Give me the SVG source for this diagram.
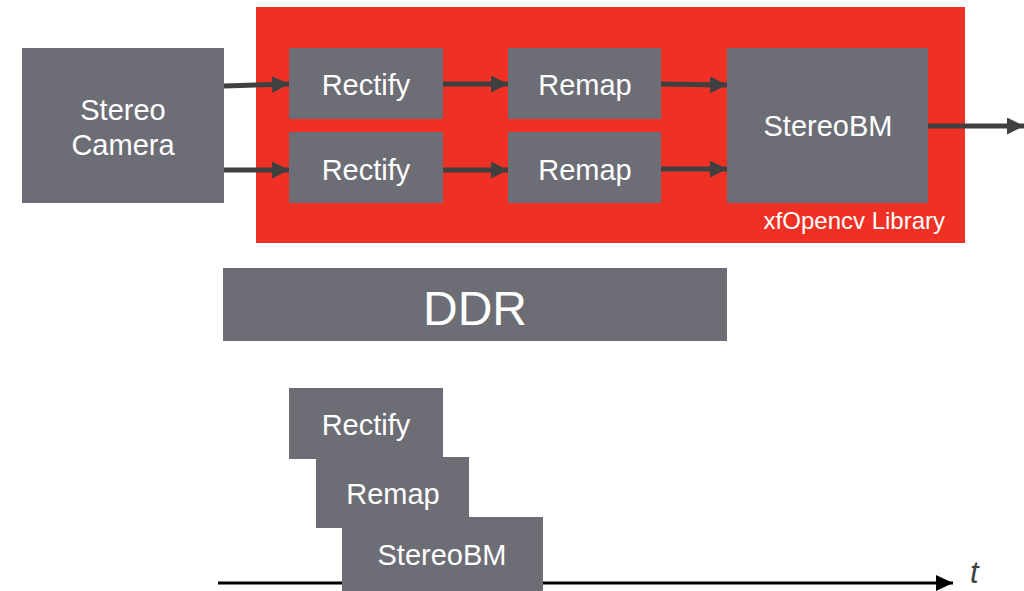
<svg xmlns="http://www.w3.org/2000/svg" width="1024" height="591" viewBox="0 0 1024 591">
  <style>
    .box { fill: #6d6e75; }
    .lbl { fill: #ffffff; font-family: "Liberation Sans", Arial, sans-serif; font-size: 29px; text-anchor: middle; }
    .conn { stroke: #404040; stroke-width: 5; fill: none; }
  </style>
  <defs>
    <marker id="ah" markerWidth="17" markerHeight="17" viewBox="0 0 17 17" refX="17" refY="8.5" markerUnits="userSpaceOnUse" orient="auto">
      <path d="M0,0 L17,8.5 L0,17 Z" fill="#404040"/>
    </marker>
    <marker id="ahk" markerWidth="17" markerHeight="16" viewBox="0 0 17 16" refX="17" refY="8" markerUnits="userSpaceOnUse" orient="auto">
      <path d="M0,0 L17,8 L0,16 Z" fill="#000000"/>
    </marker>
  </defs>
  <rect x="0" y="0" width="1024" height="591" fill="#ffffff"/>

  <g id="library">
    <rect x="256" y="7" width="709" height="236" fill="#ee3124"/>
    <text x="945" y="229" fill="#ffffff" font-family="Liberation Sans, Arial, sans-serif" font-size="24" text-anchor="end">xfOpencv Library</text>
  </g>

  <g id="camera">
    <rect class="box" x="22" y="48" width="202" height="155"/>
    <text class="lbl" x="123" y="120">Stereo</text>
    <text class="lbl" x="123" y="155">Camera</text>
  </g>
  <g id="rectify1">
    <rect class="box" x="289" y="48" width="154" height="71"/>
    <text class="lbl" x="366" y="95">Rectify</text>
  </g>
  <g id="rectify2">
    <rect class="box" x="289" y="132" width="154" height="71"/>
    <text class="lbl" x="366" y="180">Rectify</text>
  </g>
  <g id="remap1">
    <rect class="box" x="508" y="48" width="153" height="71"/>
    <text class="lbl" x="585" y="95">Remap</text>
  </g>
  <g id="remap2">
    <rect class="box" x="508" y="132" width="153" height="71"/>
    <text class="lbl" x="585" y="180">Remap</text>
  </g>
  <g id="stereobm">
    <rect class="box" x="727" y="48" width="201" height="155"/>
    <text class="lbl" x="828" y="136">StereoBM</text>
  </g>

  <g id="ddr">
    <rect class="box" x="223" y="268" width="504" height="73"/>
    <text x="475" y="325" fill="#ffffff" font-family="Liberation Sans, Arial, sans-serif" font-size="48" text-anchor="middle">DDR</text>
  </g>

  <g id="connectors">
    <line class="conn" x1="224" y1="86" x2="289" y2="84" marker-end="url(#ah)"/>
    <line class="conn" x1="224" y1="170" x2="289" y2="170" marker-end="url(#ah)"/>
    <line class="conn" x1="443" y1="84" x2="508" y2="84" marker-end="url(#ah)"/>
    <line class="conn" x1="443" y1="170" x2="508" y2="170" marker-end="url(#ah)"/>
    <line class="conn" x1="661" y1="84" x2="727" y2="85" marker-end="url(#ah)"/>
    <line class="conn" x1="661" y1="169" x2="727" y2="169" marker-end="url(#ah)"/>
    <line class="conn" x1="928" y1="126" x2="1024" y2="126" marker-end="url(#ah)"/>
    <line x1="218" y1="583" x2="953" y2="583" stroke="#000000" stroke-width="3" marker-end="url(#ahk)"/>
  </g>

  <g id="timeline-rectify">
    <rect class="box" x="289" y="388" width="154" height="71"/>
    <text class="lbl" x="366" y="435">Rectify</text>
  </g>
  <g id="timeline-remap">
    <rect class="box" x="316" y="457" width="153" height="71"/>
    <text class="lbl" x="393" y="504">Remap</text>
  </g>
  <g id="timeline-stereobm">
    <rect class="box" x="342" y="517" width="201" height="74"/>
    <text class="lbl" x="442" y="565">StereoBM</text>
  </g>
  <text x="970" y="583" fill="#404040" font-family="Liberation Sans, Arial, sans-serif" font-size="31" font-style="italic">t</text>
</svg>
